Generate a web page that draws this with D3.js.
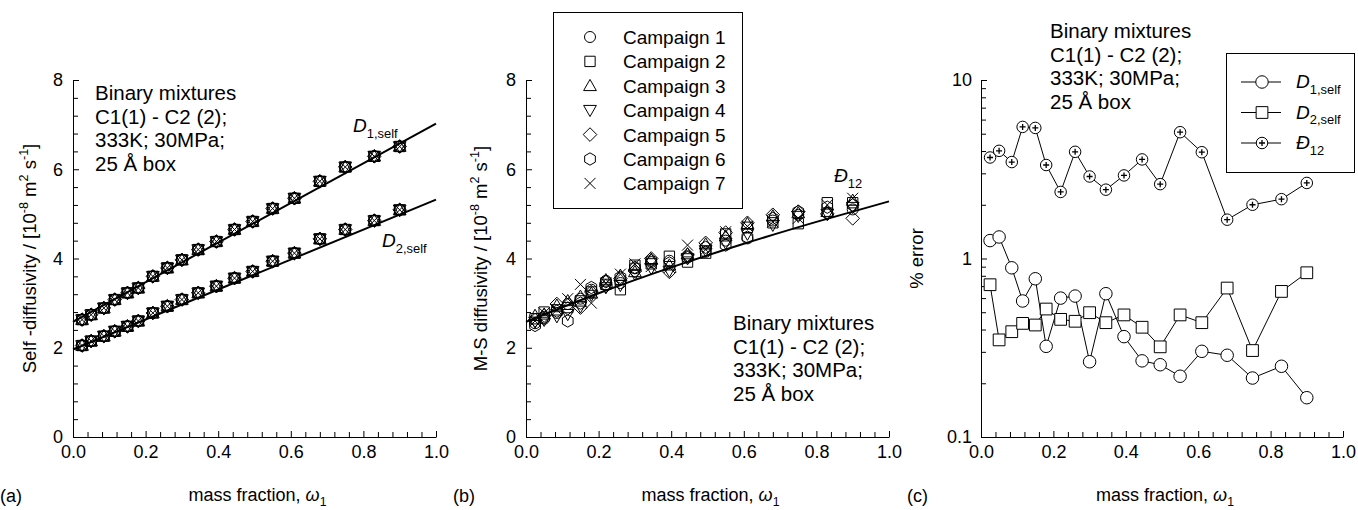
<!DOCTYPE html>
<html>
<head>
<meta charset="utf-8">
<script src="https://cdn.jsdelivr.net/npm/d3@7"></script>
<style>
  body { margin: 0; background: #fff; }
  svg { display: block; }
  text { font-family: "Liberation Sans", Arial, Helvetica, sans-serif; fill: #000; }
</style>
</head>
<body>
<svg id="chart" width="1358" height="510"></svg>
<script>
// ---------- data ----------
const massFraction = [0.025, 0.05, 0.085, 0.115, 0.15, 0.18, 0.22, 0.26, 0.30, 0.345,
                      0.395, 0.445, 0.495, 0.55, 0.61, 0.68, 0.75, 0.83, 0.90];

// self-diffusivities, 10^-8 m2/s (all campaigns coincide)
const d1Self = [2.63, 2.74, 2.89, 3.08, 3.23, 3.34, 3.60, 3.79, 3.97, 4.20,
                4.38, 4.65, 4.83, 5.12, 5.35, 5.73, 6.05, 6.29, 6.51];
const d2Self = [2.05, 2.15, 2.26, 2.37, 2.48, 2.60, 2.78, 2.93, 3.08, 3.23,
                3.38, 3.56, 3.71, 3.94, 4.12, 4.44, 4.65, 4.85, 5.09];

// correlation lines
const fitX = [0, 1];
const d1Fit = [2.58, 7.02];
const d2Fit = [1.96, 5.32];
const msFitX = [0, 0.2, 0.4, 0.6, 0.8, 1.0];
const msFit = [2.58, 3.22, 3.80, 4.33, 4.82, 5.28];

// Maxwell-Stefan diffusivity per campaign, 10^-8 m2/s
const campaign1 = [2.55, 2.65, 2.78, 2.98, 3.10, 3.30, 3.50, 3.45, 3.78, 3.92, 3.95, 4.05, 4.15, 4.40, 4.45, 4.85, 4.98, 5.02, 5.10];
const campaign2 = [2.65, 2.80, 2.85, 2.90, 3.05, 3.25, 3.42, 3.30, 3.85, 3.88, 4.05, 3.92, 4.12, 4.55, 4.70, 4.80, 4.78, 5.25, 5.25];
const campaign3 = [2.72, 2.75, 2.95, 3.05, 3.15, 3.22, 3.52, 3.62, 3.70, 3.98, 3.85, 4.10, 4.32, 4.50, 4.78, 4.95, 5.02, 5.05, 5.30];
const campaign4 = [2.58, 2.62, 2.70, 2.75, 2.92, 3.18, 3.35, 3.40, 3.65, 3.78, 3.72, 4.00, 4.18, 4.35, 4.55, 4.75, 4.95, 5.00, 5.15];
const campaign5 = [2.62, 2.72, 2.98, 2.88, 2.90, 3.25, 3.38, 3.55, 3.72, 4.00, 3.70, 4.08, 4.35, 4.58, 4.80, 4.98, 5.05, 5.00, 4.90];
const campaign6 = [2.50, 2.68, 2.82, 2.60, 3.00, 3.35, 3.48, 3.58, 3.80, 3.95, 3.90, 4.02, 4.25, 4.30, 4.48, 4.90, 5.05, 5.15, 5.20];
const campaign7 = [2.60, 2.78, 2.85, 3.10, 3.42, 3.00, 3.45, 3.65, 3.88, 3.82, 3.80, 4.30, 4.20, 4.60, 4.72, 4.82, 4.90, 5.20, 5.35];
const campaignNames = ["Campaign 1", "Campaign 2", "Campaign 3", "Campaign 4",
                       "Campaign 5", "Campaign 6", "Campaign 7"];
const campaignSymbols = ["circle", "square", "triUp", "triDown", "diamond", "hexagon", "cross"];

// statistical error, %
const errD1 = [1.26, 1.32, 0.887, 0.578, 0.77, 0.322, 0.60, 0.616, 0.264, 0.635,
               0.365, 0.267, 0.254, 0.219, 0.302, 0.287, 0.214, 0.249, 0.166];
const errD2 = [0.713, 0.350, 0.389, 0.433, 0.424, 0.521, 0.456, 0.445, 0.497, 0.437,
               0.483, 0.412, 0.320, 0.483, 0.437, 0.683, 0.305, 0.654, 0.832];
const errD12 = [3.68, 4.01, 3.47, 5.46, 5.39, 3.34, 2.36, 3.96, 2.88, 2.43,
                2.92, 3.59, 2.61, 5.10, 3.94, 1.65, 2.00, 2.15, 2.65];

// tick values
const xMajor = [0, 0.2, 0.4, 0.6, 0.8, 1.0];
const xMinor = d3.range(0, 25).map(i => i * 0.04).filter((v, i) => i % 5 !== 0);
const yMajor = [0, 2, 4, 6, 8];
const yMinor = d3.range(0, 20).map(i => i * 0.4).filter((v, i) => i % 5 !== 0);
const logMajor = [0.1, 1, 10];
const logMinor = [0.2, 0.3, 0.4, 0.5, 0.6, 0.7, 0.8, 0.9, 2, 3, 4, 5, 6, 7, 8, 9];

const annotation = ["Binary mixtures", "C1(1) - C2 (2);", "333K; 30MPa;", "25 Å box"];

// ---------- layout ----------
const svg = d3.select("#chart");
svg.append("rect").attr("width", 1358).attr("height", 510).attr("fill", "#fff");

const plotTop = 80, plotBottom = 437;
const panels = [
  { left: 73, right: 436 },
  { left: 526, right: 889 },
  { left: 981, right: 1343 }
];

// ---------- helpers ----------
function symbolPath(type, s) {
  switch (type) {
    case "circle": {
      const r = s * 0.5;
      return `M${r},0A${r},${r} 0 1,1 ${-r},0A${r},${r} 0 1,1 ${r},0Z`;
    }
    case "square": {
      const h = s * 0.47;
      return `M${-h},${-h}H${h}V${h}H${-h}Z`;
    }
    case "triUp": {
      const h = s * 0.58;
      return `M0,${-h}L${h},${h * 0.75}L${-h},${h * 0.75}Z`;
    }
    case "triDown": {
      const h = s * 0.58;
      return `M0,${h}L${h},${-h * 0.75}L${-h},${-h * 0.75}Z`;
    }
    case "diamond": {
      const h = s * 0.62;
      return `M0,${-h}L${h},0L0,${h}L${-h},0Z`;
    }
    case "hexagon": {
      const r = s * 0.56;
      const pts = d3.range(6).map(i => {
        const a = Math.PI / 3 * i - Math.PI / 2;
        return [r * Math.cos(a), r * Math.sin(a)];
      });
      return "M" + pts.map(p => p.join(",")).join("L") + "Z";
    }
    case "cross": {
      const h = s * 0.5;
      return `M${-h},${-h}L${h},${h}M${-h},${h}L${h},${-h}`;
    }
  }
}

function richText(sel, parts, size) {
  let cur = 0;
  parts.forEach(p => {
    const ts = sel.append("tspan").text(p.t);
    const shift = p.sup ? -0.42 * size : (p.sub ? 0.3 * size : 0);
    if (shift !== cur) ts.attr("dy", shift - cur);
    cur = shift;
    if (p.sup || p.sub) ts.attr("font-size", 0.68 * size);
    if (p.it) ts.attr("font-style", "italic");
  });
}

function drawAxes(g, x, y, p, isLog) {
  const xg = g.append("g").attr("transform", `translate(0,${plotBottom})`);
  xg.call(d3.axisBottom(x).tickValues(xMajor).tickFormat(d3.format(".1f"))
      .tickSizeInner(-6).tickSizeOuter(0).tickPadding(8));
  g.append("g").attr("transform", `translate(0,${plotBottom})`)
    .call(d3.axisBottom(x).tickValues(xMinor).tickFormat("").tickSizeInner(-5).tickSizeOuter(0))
    .select(".domain").remove();

  const yg = g.append("g").attr("transform", `translate(${p.left},0)`);
  if (isLog) {
    yg.call(d3.axisLeft(y).tickValues(logMajor).tickFormat(d => d3.format("~g")(d))
        .tickSizeInner(-6).tickSizeOuter(0).tickPadding(9));
    g.append("g").attr("transform", `translate(${p.left},0)`)
      .call(d3.axisLeft(y).tickValues(logMinor).tickFormat("").tickSizeInner(-5).tickSizeOuter(0))
      .select(".domain").remove();
  } else {
    yg.call(d3.axisLeft(y).tickValues(yMajor).tickFormat(d3.format("d"))
        .tickSizeInner(-6).tickSizeOuter(0).tickPadding(10));
    g.append("g").attr("transform", `translate(${p.left},0)`)
      .call(d3.axisLeft(y).tickValues(yMinor).tickFormat("").tickSizeInner(-5).tickSizeOuter(0))
      .select(".domain").remove();
  }
  g.selectAll(".tick text").attr("font-size", 18)
    .attr("font-family", '"Liberation Sans", Arial, sans-serif').attr("fill", "#000");
  g.selectAll(".domain, .tick line").attr("stroke", "#000").attr("stroke-width", 1);

  // x title
  const xt = g.append("text").attr("x", (p.left + p.right) / 2 + 3).attr("y", 501)
    .attr("text-anchor", "middle").attr("font-size", 18);
  richText(xt, [{ t: "mass fraction,  " }, { t: "ω", it: true }, { t: "1", sub: true }], 18);
}

function annotate(g, x, y0) {
  const t = g.append("g");
  annotation.forEach((line, i) => {
    t.append("text").attr("x", x).attr("y", y0 + i * 23.5).attr("font-size", 20.5).text(line);
  });
}

const yTitleParts = (head) => [
  { t: head + " [10" }, { t: "-8", sup: true }, { t: " m" }, { t: "2", sup: true },
  { t: " s" }, { t: "-1", sup: true }, { t: "]" }
];

function yTitle(g, x, y, parts, size) {
  const t = g.append("text").attr("transform", `translate(${x},${y}) rotate(-90)`)
    .attr("text-anchor", "middle").attr("font-size", size);
  richText(t, parts, size);
}

// ---------- panel (a) ----------
{
  const p = panels[0];
  const g = svg.append("g");
  const x = d3.scaleLinear().domain([0, 1]).range([p.left, p.right]);
  const y = d3.scaleLinear().domain([0, 8]).range([plotBottom, plotTop]);
  drawAxes(g, x, y, p, false);

  const line = d3.line().x(d => x(d[0])).y(d => y(d[1]));
  [d1Fit, d2Fit].forEach(fit => {
    g.append("path").attr("d", line(fitX.map((v, i) => [v, fit[i]])))
      .attr("fill", "none").attr("stroke", "#000").attr("stroke-width", 2);
  });

  [d1Self, d2Self].forEach(vals => {
    campaignSymbols.forEach(sym => {
      g.append("g").selectAll("path").data(vals).join("path")
        .attr("transform", (d, i) => `translate(${x(massFraction[i])},${y(d)})`)
        .attr("d", symbolPath(sym, 11))
        .attr("fill", "none").attr("stroke", "#000").attr("stroke-width", 1);
    });
  });

  const l1 = g.append("text").attr("x", 353).attr("y", 132).attr("font-size", 19);
  richText(l1, [{ t: "D", it: true }, { t: "1,self", sub: true }], 19);
  const l2 = g.append("text").attr("x", 382).attr("y", 247).attr("font-size", 19);
  richText(l2, [{ t: "D", it: true }, { t: "2,self", sub: true }], 19);

  annotate(g, 95, 100);
  yTitle(g, 36, (plotTop + plotBottom) / 2, yTitleParts("Self -diffusivity /"), 18.5);
  g.append("text").attr("x", 0).attr("y", 502).attr("font-size", 18).text("(a)");
}

// ---------- panel (b) ----------
{
  const p = panels[1];
  const g = svg.append("g");
  const x = d3.scaleLinear().domain([0, 1]).range([p.left, p.right]);
  const y = d3.scaleLinear().domain([0, 8]).range([plotBottom, plotTop]);
  drawAxes(g, x, y, p, false);

  const line = d3.line().curve(d3.curveMonotoneX).x(d => x(d[0])).y(d => y(d[1]));
  g.append("path").attr("d", line(msFitX.map((v, i) => [v, msFit[i]])))
    .attr("fill", "none").attr("stroke", "#000").attr("stroke-width", 2);

  const campaigns = [campaign1, campaign2, campaign3, campaign4, campaign5, campaign6, campaign7];
  campaigns.forEach((vals, k) => {
    g.append("g").selectAll("path").data(vals).join("path")
      .attr("transform", (d, i) => `translate(${x(massFraction[i])},${y(d)})`)
      .attr("d", symbolPath(campaignSymbols[k], 11))
      .attr("fill", "none").attr("stroke", "#000").attr("stroke-width", 1);
  });

  const lb = g.append("text").attr("x", 834).attr("y", 182).attr("font-size", 19);
  richText(lb, [{ t: "Đ", it: true }, { t: "12", sub: true }], 19);

  // legend
  const lg = g.append("g");
  lg.append("rect").attr("x", 553.5).attr("y", 12.5).attr("width", 189).attr("height", 196)
    .attr("fill", "#fff").attr("stroke", "#000").attr("stroke-width", 1);
  campaignNames.forEach((name, k) => {
    const cy = 37 + k * 24.4;
    lg.append("path").attr("transform", `translate(590,${cy})`)
      .attr("d", symbolPath(campaignSymbols[k], 11))
      .attr("fill", "none").attr("stroke", "#000").attr("stroke-width", 1);
    lg.append("text").attr("x", 623).attr("y", cy + 7).attr("font-size", 19).text(name);
  });

  annotate(g, 733, 330);
  yTitle(g, 487, (plotTop + plotBottom) / 2, yTitleParts("M-S diffusivity /"), 18.5);
  g.append("text").attr("x", 453).attr("y", 502).attr("font-size", 18).text("(b)");
}

// ---------- panel (c) ----------
{
  const p = panels[2];
  const g = svg.append("g");
  const x = d3.scaleLinear().domain([0, 1]).range([p.left, p.right]);
  const y = d3.scaleLog().domain([0.1, 10]).range([plotBottom, plotTop]);
  drawAxes(g, x, y, p, true);

  const line = d3.line().x((d, i) => x(massFraction[i])).y(d => y(d));
  const series = [
    { vals: errD12, sym: "plusCircle" },
    { vals: errD2, sym: "square" },
    { vals: errD1, sym: "circle" }
  ];
  const drawSym = (sel, sym) => {
    if (sym === "plusCircle") {
      sel.append("path").attr("d", symbolPath("circle", 11.5))
        .attr("fill", "#fff").attr("stroke", "#000").attr("stroke-width", 1);
      sel.append("path").attr("d", "M-3,0H3M0,-3V3")
        .attr("fill", "none").attr("stroke", "#000").attr("stroke-width", 1.3);
    } else {
      sel.append("path").attr("d", symbolPath(sym, 12.5))
        .attr("fill", "#fff").attr("stroke", "#000").attr("stroke-width", 1);
    }
  };
  series.forEach(s => {
    g.append("path").attr("d", line(s.vals)).attr("fill", "none")
      .attr("stroke", "#000").attr("stroke-width", 1);
  });
  series.forEach(s => {
    g.append("g").selectAll("g").data(s.vals).join("g")
      .attr("transform", (d, i) => `translate(${x(massFraction[i])},${y(d)})`)
      .each(function () { drawSym(d3.select(this), s.sym); });
  });

  // legend
  const lg = g.append("g");
  lg.append("rect").attr("x", 1226.5).attr("y", 53.5).attr("width", 128).attr("height", 119)
    .attr("fill", "#fff").attr("stroke", "#000").attr("stroke-width", 1);
  const entries = [
    { sym: "circle", parts: [{ t: "D", it: true }, { t: "1,self", sub: true }] },
    { sym: "square", parts: [{ t: "D", it: true }, { t: "2,self", sub: true }] },
    { sym: "plusCircle", parts: [{ t: "Đ", it: true }, { t: "12", sub: true }] }
  ];
  entries.forEach((e, k) => {
    const cy = 82 + k * 30.5;
    lg.append("line").attr("x1", 1241).attr("x2", 1281).attr("y1", cy).attr("y2", cy)
      .attr("stroke", "#000").attr("stroke-width", 1);
    drawSym(lg.append("g").attr("transform", `translate(1262,${cy})`), e.sym);
    const t = lg.append("text").attr("x", 1296).attr("y", cy + 6).attr("font-size", 19);
    richText(t, e.parts, 19);
  });

  annotate(g, 1050, 38);
  g.append("text").attr("transform", `translate(923,${(plotTop + plotBottom) / 2}) rotate(-90)`)
    .attr("text-anchor", "middle").attr("font-size", 18.5).text("% error");
  g.append("text").attr("x", 907).attr("y", 502).attr("font-size", 18).text("(c)");
}
</script>
</body>
</html>
